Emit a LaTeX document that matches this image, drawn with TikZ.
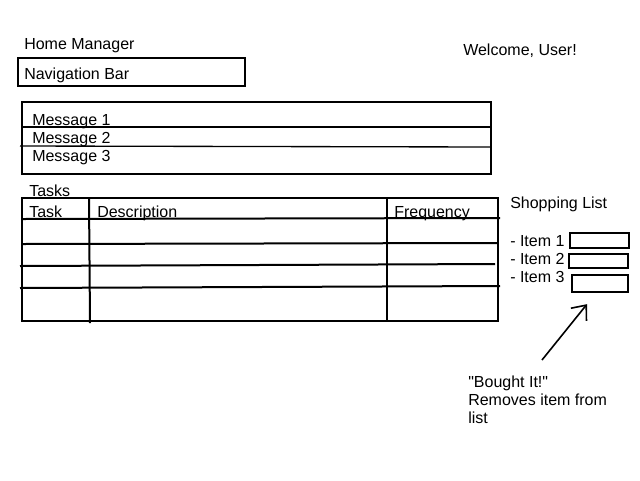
\documentclass[tikz,border=0pt]{standalone}
\usepackage{fontspec}
\setmainfont{Liberation Sans}[Ligatures=TeXOff]
\usetikzlibrary{arrows.meta,calc}

\tikzset{
  txt/.style={anchor=base west,inner sep=0pt,font=\fontsize{12pt}{13.5pt}\selectfont},
  wire/.style={line width=1.5pt},
  itembox/.style={draw,line width=1.5pt,inner sep=0pt},
  bought/.style={-{Straight Barb[length=9pt,width=15pt]},line width=1.2pt}
}

\begin{document}
\begin{tikzpicture}[x=0.75pt,y=-0.75pt]
  \useasboundingbox (0,0) rectangle (640,480);
  % header
  \node[txt] (title)   at (24,49)  {Home Manager};
  \node[txt] (welcome) at (463,55) {Welcome, User!};
  \draw[wire] (18,58) rectangle (245,86);
  \node[txt] (nav) at (24,79) {Navigation Bar};
  % messages
  \draw[wire] (22,102) rectangle (491,174);
  \draw[wire] (22,127) -- (491,127);
  \draw[wire,line width=1pt] (20,146) -- (491,147);
  \node[txt] (msg1) at (32,125) {Message 1};
  \node[txt] (msg2) at (32,143) {Message 2};
  \node[txt] (msg3) at (32,161) {Message 3};
  % tasks table
  \node[txt] (tasks) at (29,196) {Tasks};
  \draw[wire] (22,198) rectangle (498,321);
  \draw[wire] (89,198) -- (90,323);
  \draw[wire] (387,198) -- (387,322);
  \foreach \xl/\yl/\xr/\yr in {22/219/500/218, 22/244/498/243, 20/266/495/264, 20/288/500/286}
    \draw[wire] (\xl,\yl) -- (\xr,\yr);
  \node[txt] (colTask) at (29,217)  {Task};
  \node[txt] (colDesc) at (97,217)  {Description};
  \node[txt] (colFreq) at (394,217) {Frequency};
  % shopping list
  \node[txt] (shop)  at (510,208) {Shopping List};
  \node[txt] (item1) at (510,246) {- Item 1};
  \node[txt] (item2) at (510,264) {- Item 2};
  \node[txt] (item3) at (510,282) {- Item 3};
  \node[itembox,minimum width=44pt,minimum height=11pt] (box1) at (599.5,240.5) {};
  \node[itembox,minimum width=44pt,minimum height=10pt] (box2) at (598.5,261)   {};
  \node[itembox,minimum width=42pt,minimum height=13pt] (box3) at (600,283.5)   {};
  % note
  \node[txt,align=left] (note) at (468,423) {"Bought It!"\\Removes item from\\list};
  \coordinate (tail) at (542,360);
  \draw[bought] (tail) -- ($(box3.south)+(-13,11)$);
\end{tikzpicture}
\end{document}
